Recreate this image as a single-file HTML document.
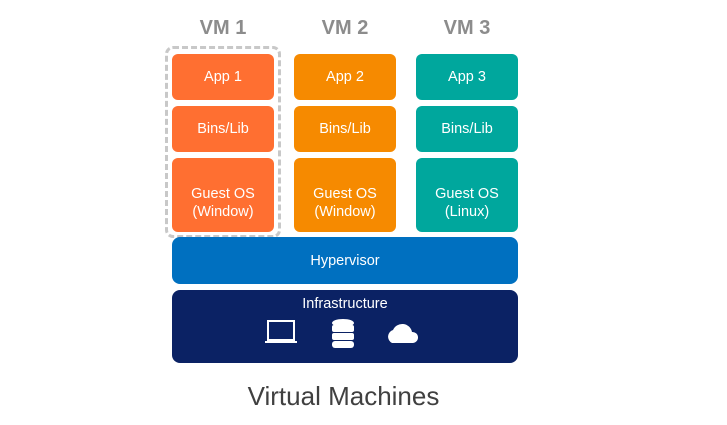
<!DOCTYPE html><html><head><style>
body{margin:0;width:727px;height:425px;background:#fff;position:relative;font-family:"Liberation Sans",sans-serif;overflow:hidden}
.b{position:absolute;border-radius:6px;color:#fff;display:flex;align-items:center;justify-content:center;text-align:center;font-size:14.5px;line-height:18px;box-sizing:border-box}
.h{position:absolute;top:17px;width:102px;text-align:center;font-weight:bold;font-size:20px;color:#8c8c8c}
.o1{background:#FF6F31}.o2{background:#F68A00}.t{background:#00A79D}
.g{padding-top:16px}
</style></head><body>
<div class="h" style="left:172px">VM 1</div>
<div class="h" style="left:294px">VM 2</div>
<div class="h" style="left:416px">VM 3</div>
<div style="position:absolute;left:165px;top:46px;width:110px;height:186px;border:3px dashed #c8c8c8;border-radius:8px"></div>
<div class="b o1" style="left:172px;top:54px;width:102px;height:46px">App 1</div>
<div class="b o1" style="left:172px;top:106px;width:102px;height:46px">Bins/Lib</div>
<div class="b o1 g" style="left:172px;top:158px;width:102px;height:74px">Guest OS<br>(Window)</div>
<div class="b o2" style="left:294px;top:54px;width:102px;height:46px">App 2</div>
<div class="b o2" style="left:294px;top:106px;width:102px;height:46px">Bins/Lib</div>
<div class="b o2 g" style="left:294px;top:158px;width:102px;height:74px">Guest OS<br>(Window)</div>
<div class="b t" style="left:416px;top:54px;width:102px;height:46px">App 3</div>
<div class="b t" style="left:416px;top:106px;width:102px;height:46px">Bins/Lib</div>
<div class="b t g" style="left:416px;top:158px;width:102px;height:74px">Guest OS<br>(Linux)</div>
<div class="b" style="left:172px;top:237px;width:346px;height:47px;background:#0070C0;border-radius:8px">Hypervisor</div>
<div class="b" style="left:172px;top:290px;width:346px;height:73px;background:#0B2264;border-radius:8px;align-items:flex-start;padding-top:5px">Infrastructure</div>
<svg style="position:absolute;left:260px;top:318px" width="170" height="34">
<rect x="8" y="3" width="26" height="19" fill="none" stroke="#fff" stroke-width="2"/>
<rect x="5" y="23" width="32" height="2" fill="#fff"/>
<g fill="#fff"><ellipse cx="83" cy="5" rx="11" ry="4"/><rect x="72" y="7" width="22" height="7" rx="2"/><rect x="72" y="15" width="22" height="7" rx="2"/><rect x="72" y="23" width="22" height="7" rx="3"/>
<path d="M132 25 a7 7 0 0 1 1-13 a10 10 0 0 1 19 2 a5.5 5.5 0 0 1 1 11 z"/></g>
</svg>
<div style="position:absolute;left:0;width:687px;top:381px;text-align:center;font-size:26px;color:#404040">Virtual Machines</div>
</body></html>
